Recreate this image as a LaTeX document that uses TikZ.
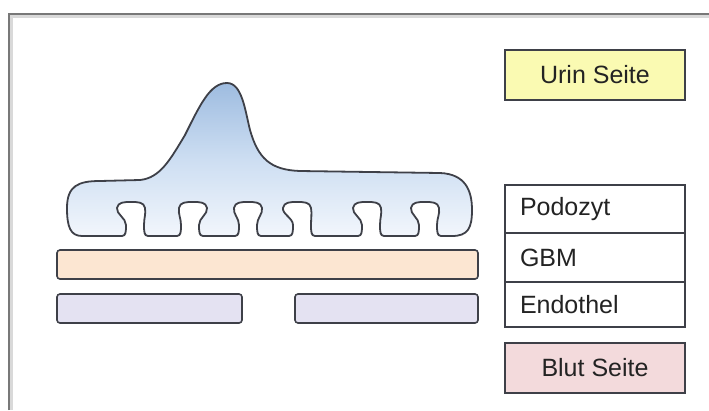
\documentclass[tikz,border=0pt]{standalone}
\usepackage{fontspec}
\setmainfont{Liberation Sans}
\begin{document}
\definecolor{edge}{RGB}{62,64,72}
\definecolor{frameline}{RGB}{120,120,120}
\definecolor{urin}{RGB}{250,250,178}
\definecolor{blut}{RGB}{243,218,220}
\definecolor{gbm}{RGB}{252,230,210}
\definecolor{endo}{RGB}{228,226,242}
\definecolor{podotop}{RGB}{158,188,224}
\definecolor{podomid}{RGB}{205,222,242}
\definecolor{podobot}{RGB}{242,246,252}
\definecolor{txt}{RGB}{35,35,35}
\tikzset{
  sidebox/.style={draw=edge, line width=1.6pt, minimum width=180pt, minimum height=50pt,
    inner sep=0pt, font=\fontsize{25}{27}\selectfont, text=txt},
  layerbox/.style={draw=edge, line width=1.6pt, minimum width=180pt, text width=150pt,
    inner xsep=15pt, inner ysep=0pt, align=left, font=\fontsize{25}{27}\selectfont, text=txt},
  bar/.style={draw=edge, line width=1.6pt, rounded corners=3pt},
  podo/.style={draw=edge, line width=1.8pt, line join=round,
    top color=podotop, bottom color=podobot, middle color=podomid},
}
\begin{tikzpicture}[x=1pt, y=-1pt]
  \useasboundingbox (0,0) rectangle (709,410);
  \fill[white] (0,0) rectangle (709,410);

  % frame, open to the right and bottom
  \draw[gray!30, line width=5pt] (10,410) -- (10,15) -- (709,15);
  \draw[frameline, line width=2.4pt] (9,410) -- (9,14) -- (709,14);

  % legend boxes
  \node[sidebox, fill=urin] (urin) at (595,75) {Urin Seite};
  \node[layerbox, minimum height=48pt] (podozyt) at (595,209) {Podozyt};
  \node[layerbox, minimum height=49pt] (gbmlabel) at (595,257.5) {GBM};
  \node[layerbox, minimum height=45pt] (endolabel) at (595,304.5) {Endothel};
  \node[sidebox, fill=blut] (blut) at (595,368) {Blut Seite};

  % glomerular basement membrane
  \draw[bar, fill=gbm] (57,250) rectangle (478,279);
  % fenestrated endothelium
  \draw[bar, fill=endo] (57,294) rectangle (242,323);
  \draw[bar, fill=endo] (295,294) rectangle (478,323);

  % podocyte with cell body and foot processes
  \draw[podo]
    (67,208) .. controls (67,186) and (78,181) .. (100,181)
    -- (140,180) .. controls (160,178) and (170,160) .. (185,135)
    .. controls (200,105) and (210,83) .. (227,83)
    .. controls (242,83) and (245,110) .. (250,130)
    .. controls (258,158) and (270,170) .. (300,171)
    -- (440,173) .. controls (465,174) and (472,190) .. (472,210)
    .. controls (472,228) and (468,236) .. (452,236)
    \foreach \c/\s in {428/-3, 371/-4, 302/-5, 248/0, 190/3, 135/-4} {
      -- (\c+13,236)
      .. controls (\c+9,236) and (\c+9,231) .. (\c+9,225)
      .. controls (\c+9,218) and (\c+\s+15,214) .. (\c+\s+14,208)
      .. controls (\c+\s+13,202) and (\c+\s+7,202) .. (\c+\s,202)
      .. controls (\c+\s-7,202) and (\c+\s-13,202) .. (\c+\s-14,208)
      .. controls (\c+\s-15,214) and (\c-9,218) .. (\c-9,225)
      .. controls (\c-9,231) and (\c-9,236) .. (\c-13,236)
    }
    -- (82,236) .. controls (70,236) and (67,226) .. (67,208) -- cycle;
\end{tikzpicture}
\end{document}
